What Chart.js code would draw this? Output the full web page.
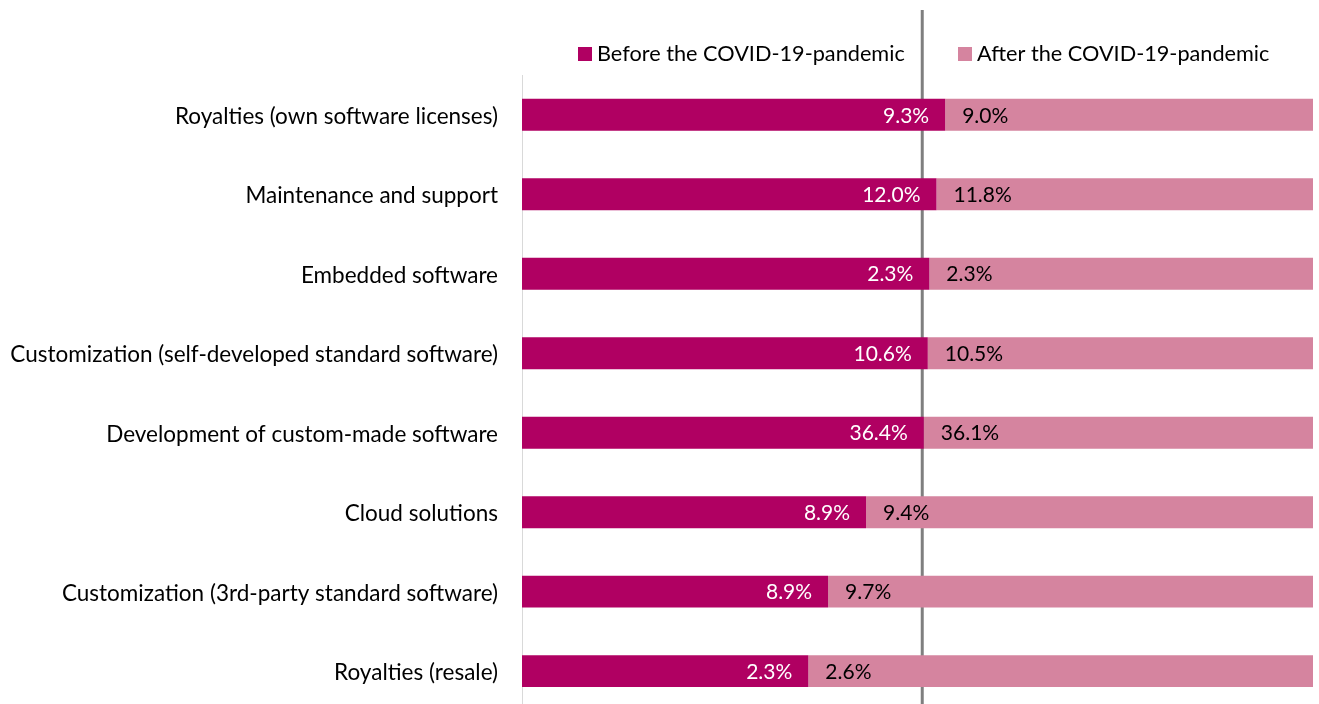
<!DOCTYPE html>
<html>
<head>
<meta charset="utf-8">
<script src="https://cdn.jsdelivr.net/npm/chart.js@4/dist/chart.umd.min.js"></script>
<style>
html,body{margin:0;padding:0;background:#fff;overflow:hidden;}
#wrap{position:relative;width:1319px;height:712px;}
</style>
</head>
<body>
<div id="wrap"><canvas id="c"></canvas></div>
<script>
const categories = [
  "Royalties (own software licenses)",
  "Maintenance and support",
  "Embedded software",
  "Customization (self-developed standard software)",
  "Development of custom-made software",
  "Cloud solutions",
  "Customization (3rd-party standard software)",
  "Royalties (resale)"
];
const seriesNames = ["Before the COVID-19-pandemic", "After the COVID-19-pandemic"];
// displayed values
const beforeValues = [9.3, 12.0, 2.3, 10.6, 36.4, 8.9, 8.9, 2.3];
const afterValues  = [9.0, 11.8, 2.3, 10.5, 36.1, 9.4, 9.7, 2.6];
// bar segment lengths (share of each row, %)
const beforeShare = [53.5, 52.4, 51.5, 51.3, 50.8, 43.5, 38.7, 36.2];
const afterShare  = [46.5, 47.6, 48.5, 48.7, 49.2, 56.5, 61.3, 63.8];
const referenceLine = 50.6;

const FONT = "Lato, 'Open Sans', sans-serif";
const FS_CAT = 22.5, FS_VAL = 21, FS_LEG = 21.7;
const colBefore = "#b00062";
const colAfter = "#d5849f";

const overlay = {
  id: "overlay",
  beforeDatasetsDraw(chart) {
    const ctx = chart.ctx, xs = chart.scales.x;
    const x = xs.getPixelForValue(referenceLine);
    ctx.save();
    ctx.strokeStyle = "#7f7f7f";
    ctx.lineWidth = 3;
    ctx.beginPath();
    ctx.moveTo(x, 10);
    ctx.lineTo(x, chart.height);
    ctx.stroke();
    ctx.restore();
  },
  afterDatasetsDraw(chart) {
    const ctx = chart.ctx;
    const m0 = chart.getDatasetMeta(0);
    ctx.save();
    ctx.font = FS_VAL + "px " + FONT;
    ctx.textBaseline = "middle";
    m0.data.forEach((bar, i) => {
      ctx.fillStyle = "#ffffff";
      ctx.textAlign = "right";
      ctx.fillText(beforeValues[i].toFixed(1) + "%", bar.x - 16, bar.y + 1);
      ctx.fillStyle = "#000000";
      ctx.textAlign = "left";
      ctx.fillText(afterValues[i].toFixed(1) + "%", bar.x + 17, bar.y + 1);
    });
    // legend
    ctx.font = FS_LEG + "px " + FONT;
    const items = [
      {box: 578, text: 597, color: colBefore, label: seriesNames[0]},
      {box: 958, text: 977, color: colAfter, label: seriesNames[1]}
    ];
    items.forEach(it => {
      ctx.fillStyle = it.color;
      ctx.fillRect(it.box, 47, 14, 14);
      ctx.fillStyle = "#000000";
      ctx.textAlign = "left";
      ctx.fillText(it.label, it.text, 54);
    });
    ctx.restore();
  }
};

new Chart(document.getElementById("c"), {
  type: "bar",
  data: {
    labels: categories,
    datasets: [
      {label: seriesNames[0], data: beforeShare, backgroundColor: colBefore, barPercentage: 0.402, categoryPercentage: 1},
      {label: seriesNames[1], data: afterShare, backgroundColor: colAfter, barPercentage: 0.402, categoryPercentage: 1}
    ]
  },
  options: {
    indexAxis: "y",
    responsive: true,
    maintainAspectRatio: false,
    animation: false,
    layout: {padding: {top: 75, right: 6, left: 0, bottom: 0}},
    plugins: {legend: {display: false}, tooltip: {enabled: false}},
    scales: {
      x: {stacked: true, min: 0, max: 100, display: false},
      y: {
        stacked: true,
        grid: {display: true, drawOnChartArea: false, drawTicks: true, tickLength: 24, tickColor: "rgba(0,0,0,0)"},
        border: {display: true, color: "#d9d9d9", width: 1},
        ticks: {color: "#000", font: {family: FONT, size: FS_CAT, lineHeight: 0.1}, padding: 0, labelOffset: 2},
        afterFit(s) { s.width = 522; }
      }
    }
  },
  plugins: [overlay]
});
</script>
</body>
</html>
